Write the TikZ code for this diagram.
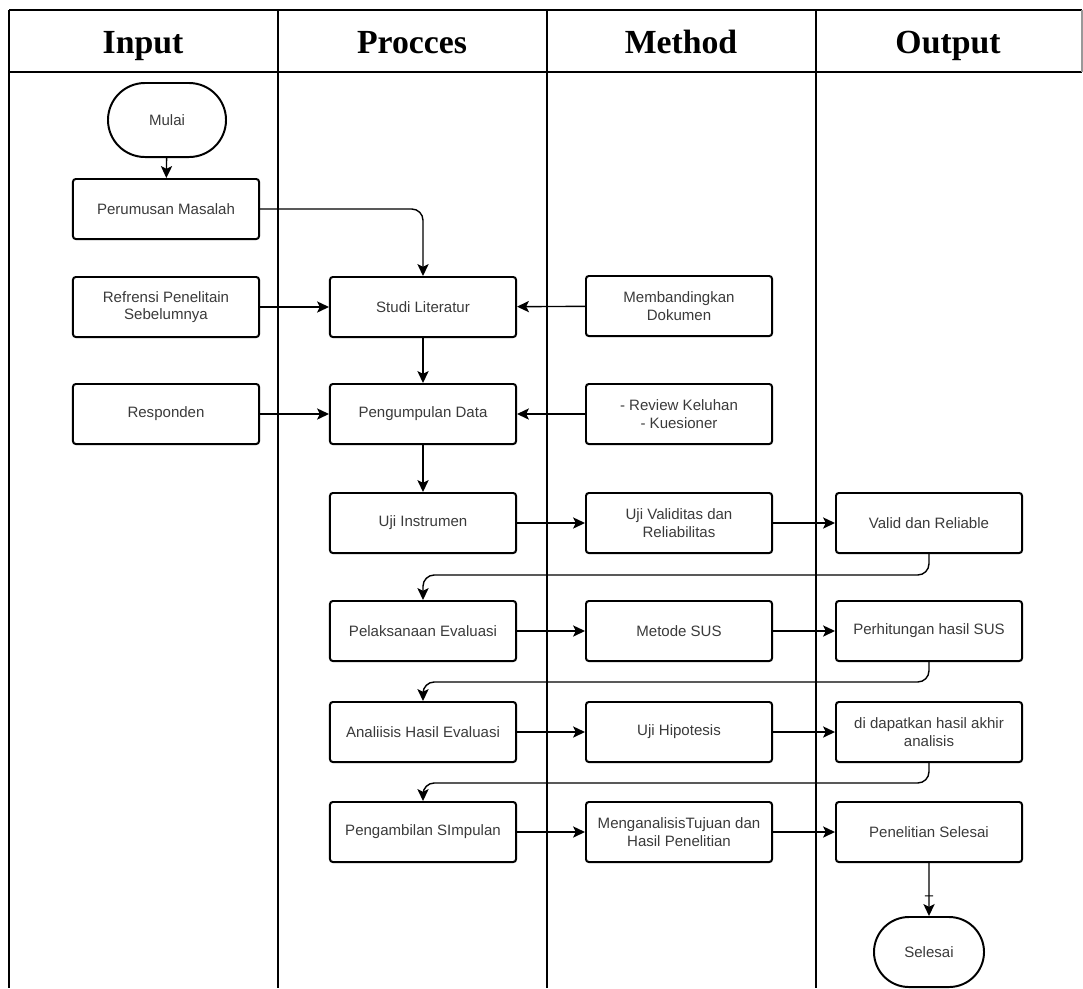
\documentclass[tikz,border=0pt]{standalone}
\usepackage{fontspec}
\setmainfont{Liberation Serif}
\newfontfamily\boxfont{Liberation Sans}
\usepackage{xcolor}
\usepackage{tikz}
\usetikzlibrary{arrows.meta}
\usetikzlibrary{shapes.misc}
\usetikzlibrary{decorations.markings}

\definecolor{txtgray}{HTML}{3A3A3A}

\begin{document}
\begin{tikzpicture}[x=0.025cm,y=-0.025cm,
  stepbox/.style={shape=rectangle,draw=black,line width=1.4pt,rounded corners=2pt,
    minimum width=4.65cm,minimum height=1.5cm,align=center,inner sep=2pt,
    font=\boxfont\fontsize{10.7}{12.6}\selectfont,text=txtgray},
  endbox/.style={shape=rounded rectangle,draw=black,line width=1.4pt,
    inner sep=0pt,font=\boxfont\fontsize{10.7}{12.6}\selectfont,text=txtgray},
  headtext/.style={font=\bfseries\fontsize{24}{28}\selectfont,anchor=base},
  conn/.style={-{Stealth[length=8.5pt,width=8pt,inset=2pt]},line width=1pt},
  gridline/.style={line width=1.4pt}]

\useasboundingbox (0,0) rectangle (1083,988);

%% table

\draw[gridline] (9,10) -- (1082,10);
\draw[gridline] (9,72) -- (1082,72);
\draw[gridline] (9,10) -- (9,988);
\draw[line width=1pt] (278,10) -- (278,988);
\draw[line width=1pt] (547,10) -- (547,988);
\draw[line width=1pt] (816,10) -- (816,988);
\draw[line width=1pt, black!40] (1082,10) -- (1082,72);

\node[headtext] (hInput) at (143,53) {Input};
\node[headtext] (hProcces) at (412,53) {Procces};
\node[headtext] (hMethod) at (681,53) {Method};
\node[headtext] (hOutput) at (948,53) {Output};

%% input column

\node[endbox, minimum width=2.95cm, minimum height=1.85cm] (mulai) at (167,120) {Mulai};
\node[stepbox] (perumusan) at (166,209) {Perumusan Masalah};
\node[stepbox] (refrensi) at (166,307) {Refrensi Penelitain\\Sebelumnya};
\node[stepbox] (responden) at (166,414) {Responden};

%% procces column

\node[stepbox] (studi) at (423,307) {Studi Literatur};
\node[stepbox] (pengumpulan) at (423,414) {Pengumpulan Data};
\node[stepbox] (ujiins) at (423,523) {Uji Instrumen};
\node[stepbox] (pelaksanaan) at (423,631) {Pelaksanaan Evaluasi};
\node[stepbox] (analisis) at (423,732) {Analiisis Hasil Evaluasi};
\node[stepbox] (pengambilan) at (423,832) {Pengambilan SImpulan};

%% method column

\node[stepbox] (membandingkan) at (679,306) {Membandingkan\\Dokumen};
\node[stepbox] (review) at (679,414) {- Review Keluhan\\- Kuesioner};
\node[stepbox] (ujival) at (679,523) {Uji Validitas dan\\Reliabilitas};
\node[stepbox] (metsus) at (679,631) {Metode SUS};
\node[stepbox] (ujihip) at (679,732) {Uji Hipotesis};
\node[stepbox] (menganalisis) at (679,832) {MenganalisisTujuan dan\\Hasil Penelitian};

%% output column

\node[stepbox] (valid) at (929,523) {Valid dan Reliable};
\node[stepbox] (perhitungan) at (929,631) {Perhitungan hasil SUS};
\node[stepbox] (hasilakhir) at (929,732) {di dapatkan hasil akhir\\analisis};
\node[stepbox] (penselesai) at (929,832) {Penelitian Selesai};
\node[endbox, minimum width=2.75cm, minimum height=1.75cm] (selesai) at (929,952) {Selesai};

%% arrows

\draw[conn] (mulai) -- (perumusan);
\draw[conn, rounded corners=8pt] (perumusan.east) -| (studi.north);
\draw[conn] (refrensi) -- (studi);
\draw[conn] (membandingkan) -- (studi);
\draw[conn] (studi) -- (pengumpulan);
\draw[conn] (responden) -- (pengumpulan);
\draw[conn] (review) -- (pengumpulan);
\draw[conn] (pengumpulan) -- (ujiins);
\draw[conn] (ujiins) -- (ujival);
\draw[conn] (ujival) -- (valid);
\draw[conn, rounded corners=8pt] (valid.south) -- ++(0,21) -| (pelaksanaan.north);
\draw[conn] (pelaksanaan) -- (metsus);
\draw[conn] (metsus) -- (perhitungan);
\draw[conn, rounded corners=8pt] (perhitungan.south) -- ++(0,20) -| (analisis.north);
\draw[conn] (analisis) -- (ujihip);
\draw[conn] (ujihip) -- (hasilakhir);
\draw[conn, rounded corners=8pt] (hasilakhir.south) -- ++(0,20) -| (pengambilan.north);
\draw[conn] (pengambilan) -- (menganalisis);
\draw[conn] (menganalisis) -- (penselesai);
\draw[conn, decoration={markings, mark=at position .62 with {\draw[-,line width=.8pt] (0,-3pt) -- (0,3pt);}}, postaction={decorate}] (penselesai) -- (selesai);

\end{tikzpicture}
\end{document}
